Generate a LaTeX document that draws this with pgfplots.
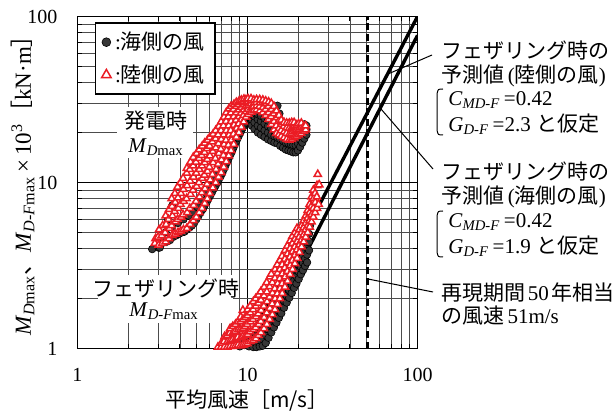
\documentclass[border=0pt]{standalone}
\usepackage{fontspec}
\setmainfont{Liberation Serif}
\newfontfamily\jp{Noto Sans CJK JP}
\usepackage{pgfplots}
\pgfplotsset{compat=1.18}
\definecolor{myred}{RGB}{235,28,36}
\definecolor{mygray}{RGB}{55,55,55}
\newcommand{\fs}{\fontsize{10.5}{12.5}\selectfont}
\begin{document}
\begin{tikzpicture}[font=\fs]
\begin{axis}[
  scale only axis, width=170pt, height=166pt,
  xmode=log, ymode=log, xmin=1, xmax=100, ymin=1, ymax=100,
  xtick={1,10,100}, xticklabels={1,10,100},
  ytick={1,10,100}, yticklabels={1,10,100},
  minor xtick={2,3,4,5,6,7,8,9,20,30,40,50,60,70,80,90},
  minor ytick={2,3,4,5,6,7,8,9,20,30,40,50,60,70,80,90},
  grid=both,
  major grid style={black, line width=0.5pt},
  minor grid style={black!70, line width=0.35pt},
  tick align=inside, major tick length=3pt, minor tick length=2.5pt,
  tick style={black, line width=0.5pt},
  axis line style={black, line width=0.9pt},
  xticklabel style={anchor=base, yshift=-16.5pt, font=\fontsize{10}{12}\selectfont},
  yticklabel style={anchor=east, xshift=-6.5pt, font=\fontsize{10}{12}\selectfont},
  legend style={at={(rel axis cs:0.0515,0.983)}, anchor=north west, draw=black, line width=0.7pt, fill=white, inner xsep=3pt, inner ysep=2.5pt, row sep=2pt, font=\fs},
  legend cell align=left,
  legend image code/.code={\draw[#1] plot coordinates {(0.12cm,0cm)};},
]
\fill[white] (rel axis cs:0.116,0.574) rectangle (rel axis cs:0.340,0.727);
\fill[white] (rel axis cs:0.060,0.077) rectangle (rel axis cs:0.457,0.221);

% sea side wind, generating
\addplot[only marks, mark=*, mark size=1.9pt, mark options={fill=mygray,draw=black,line width=0.3pt}, legend image post style={mark size=2.2pt}] coordinates {
(2.75,3.97)(3.0,4.05)(3.05,4.06)(3.2,4.35)(3.35,4.4)(3.5,4.5)(3.65,4.7)(3.8,4.8)(3.95,4.9)(4.1,5.0)(4.25,5.05)(4.4,5.2)(4.55,5.35)(4.7,5.5)(4.85,5.7)(5.0,6.0)(5.15,6.3)(5.3,6.6)(5.45,6.9)(5.6,7.3)(5.75,7.6)(5.9,8.0)(6.05,8.4)(6.2,8.8)(6.35,9.2)(6.5,9.6)(6.65,10.0)(6.8,10.5)(6.95,10.9)(7.1,11.4)(7.25,12.0)(7.4,12.6)(7.55,13.2)(7.7,13.8)(7.85,14.4)(8.0,15.0)(8.15,15.7)(8.3,16.4)(8.45,17.1)(8.6,17.8)(8.75,18.5)(8.9,19.2)(9.05,19.9)(9.2,20.6)(9.35,21.3)(9.5,22.0)(9.65,22.7)(9.8,23.4)(9.95,23.9)(10.1,24.4)(10.25,24.8)(10.4,25.2)
(3.3,5.0)(3.6,5.4)(3.9,5.7)(4.2,6.0)(4.5,6.3)(4.8,6.6)(5.1,7.1)(5.4,7.8)(5.7,8.6)(6.0,9.5)(6.3,10.4)(6.6,11.3)(6.9,12.3)(7.2,13.4)(7.5,14.6)(7.8,15.9)(8.1,17.3)(8.4,18.8)(8.7,20.3)(9.0,21.8)(9.3,23.2)(9.6,24.5)(9.9,25.6)(10.2,26.4)
(3.56,7.05)(3.62,7.3)(4.85,13.3)(3.4,6.0)
(10.6,22.0)(10.6,24.0)(10.6,25.6)(11.0,21.0)(11.0,23.0)(11.0,25.0)(11.0,26.2)
(11.5,20.0)(11.5,22.0)(11.5,24.0)(11.5,25.8)(12.0,19.4)(12.0,21.4)(12.0,23.4)(12.0,25.2)
(12.6,18.8)(12.6,20.6)(12.6,22.6)(12.6,24.4)(13.2,18.2)(13.2,20.0)(13.2,21.8)(13.2,23.6)
(13.8,17.8)(13.8,19.4)(13.8,21.2)(14.4,17.4)(14.4,19.0)(14.4,20.6)(15.0,17.2)(15.0,18.6)(15.0,20.2)
(15.6,16.6)(15.6,18.2)(15.6,19.8)(16.2,16.2)(16.2,17.8)(16.2,19.4)(16.8,15.8)(16.8,17.4)(16.8,19.0)
(17.4,15.6)(17.4,17.2)(17.4,18.8)(18.0,15.4)(18.0,17.0)(18.0,18.6)(18.6,15.2)(18.6,16.8)(18.6,18.6)
(19.2,15.2)(19.2,16.8)(19.2,18.8)(19.8,15.6)(19.8,17.2)(19.8,19.2)
(20.4,16.4)(20.4,18.0)(20.4,19.8)(20.4,21.4)(21.0,17.4)(21.0,19.0)(21.0,20.6)(21.0,22.0)
(21.6,18.4)(21.6,19.8)(21.6,21.4)(21.6,22.4)(22.2,19.4)(22.2,20.8)(22.2,22.0)
(15.0,29.0)(15.4,26.0)
};
\addlegendentry{:{\jp 海側の風}}

% sea side wind, feathering
\addplot[forget plot, only marks, mark=*, mark size=1.9pt, mark options={fill=mygray,draw=black,line width=0.3pt}] coordinates {
(9.0,1.03)(9.35,1.5)(9.6,1.05)(9.63,1.12)(10.2,1.03)(10.23,1.1)(10.17,1.2)(10.8,1.02)(10.83,1.1)(10.77,1.2)
(11.3,1.02)(11.33,1.1)(11.27,1.2)(11.3,1.3)(11.8,1.03)(11.83,1.12)(11.77,1.22)(11.8,1.34)
(12.3,1.04)(12.33,1.14)(12.27,1.26)(12.3,1.4)
(12.8,1.08)(12.8,1.2)(12.8,1.32)(12.8,1.42)(13.3,1.16)(13.3,1.3)(13.3,1.42)(13.3,1.52)
(13.8,1.25)(13.8,1.38)(13.8,1.52)(13.8,1.64)(14.3,1.34)(14.3,1.48)(14.3,1.62)(14.3,1.76)
(14.8,1.43)(14.8,1.58)(14.8,1.74)(14.8,1.88)(15.3,1.53)(15.3,1.69)(15.3,1.86)(15.3,2.0)
(15.8,1.63)(15.8,1.8)(15.8,1.98)(15.8,2.14)(16.4,1.76)(16.4,1.94)(16.4,2.14)(16.4,2.3)
(17.0,1.89)(17.0,2.08)(17.0,2.3)(17.0,2.48)(17.6,2.02)(17.6,2.24)(17.6,2.46)(17.6,2.66)
(18.2,2.16)(18.2,2.4)(18.2,2.64)(18.2,2.84)(18.8,2.32)(18.8,2.56)(18.8,2.82)(18.8,3.04)
(19.4,2.46)(19.4,2.72)(19.4,3.0)(19.4,3.24)(20.0,2.62)(20.0,2.9)(20.0,3.2)(20.0,3.46)
(20.6,2.8)(20.6,3.1)(20.6,3.4)(20.6,3.66)(21.2,2.96)(21.2,3.28)(21.2,3.6)(21.2,3.9)
(21.8,3.14)(21.8,3.48)(21.8,3.84)(21.8,4.12)(22.4,3.3)(22.4,3.68)(22.4,4.06)(22.4,4.4)
(23.0,3.9)(23.0,4.4)(23.0,4.9)(23.3,5.5)
};

% land side wind, generating
\addplot[only marks, mark=triangle*, mark size=2.1pt, mark options={fill=white,draw=myred,line width=0.75pt}, legend image post style={mark size=2.7pt}] coordinates {
(2.85,4.3)(2.88,4.6)
(3.0,4.2)(2.98,4.7)(3.02,5.2)
(3.15,4.3)(3.13,4.8)(3.17,5.5)
(3.3,4.4)(3.28,5.0)(3.32,5.6)(3.3,6.3)
(3.45,4.6)(3.47,5.3)(3.43,6.0)(3.46,6.9)
(3.6,4.8)(3.58,5.5)(3.62,6.3)(3.6,7.2)(3.58,8.0)
(3.75,4.9)(3.77,5.8)(3.73,6.7)(3.76,7.6)(3.74,8.6)
(3.9,5.0)(3.88,6.0)(3.92,7.0)(3.9,8.1)(3.88,9.4)
(4.05,5.1)(4.07,6.2)(4.03,7.4)(4.06,8.6)(4.04,10.0)
(4.2,5.2)(4.18,6.4)(4.22,7.7)(4.2,9.1)(4.18,10.6)
(4.4,5.3)(4.42,6.6)(4.38,8.0)(4.41,9.6)(4.39,11.4)(4.4,12.2)
(4.6,5.6)(4.58,7.0)(4.62,8.5)(4.6,10.2)(4.58,12.0)(4.62,13.3)
(4.8,5.9)(4.82,7.3)(4.78,9.0)(4.81,10.8)(4.79,12.6)(4.8,14.2)
(5.0,6.2)(4.98,7.7)(5.02,9.5)(5.0,11.4)(4.98,13.3)(5.02,15.0)
(5.2,6.6)(5.22,8.2)(5.18,10.0)(5.21,12.0)(5.19,14.0)(5.2,15.8)
(5.4,7.0)(5.38,8.7)(5.42,10.6)(5.4,12.6)(5.38,14.6)(5.42,16.6)
(5.6,7.5)(5.62,9.2)(5.58,11.1)(5.61,13.2)(5.59,15.2)(5.6,17.3)
(5.8,8.0)(5.78,9.8)(5.82,11.7)(5.8,13.8)(5.78,16.0)(5.82,18.0)
(6.0,8.6)(6.03,10.4)(5.97,12.4)(6.01,14.5)(5.99,16.6)(6.0,18.7)
(6.25,9.3)(6.22,11.2)(6.28,13.2)(6.25,15.4)(6.22,17.6)(6.28,19.6)
(6.5,10.0)(6.53,12.0)(6.47,14.0)(6.51,16.2)(6.49,18.4)(6.5,20.6)
(6.75,10.8)(6.72,12.9)(6.78,15.0)(6.75,17.2)(6.72,19.4)(6.78,21.8)
(7.0,11.5)(7.03,13.7)(6.97,15.9)(7.01,18.2)(6.99,20.6)(7.0,23.2)
(7.25,12.4)(7.22,14.6)(7.28,17.0)(7.25,19.4)(7.22,22.0)(7.28,24.8)
(7.5,13.4)(7.53,15.6)(7.47,18.0)(7.51,20.6)(7.49,23.4)(7.5,26.4)
(7.75,14.5)(7.72,16.8)(7.78,19.3)(7.75,22.0)(7.72,24.9)(7.78,27.8)
(8.0,15.6)(8.03,18.0)(7.97,20.6)(8.01,23.4)(7.99,26.3)(8.0,28.8)
(8.3,17.0)(8.27,19.6)(8.33,22.2)(8.3,25.0)(8.27,27.6)(8.33,29.6)
(8.6,18.8)(8.63,21.2)(8.57,23.8)(8.61,26.4)(8.59,28.8)(8.6,30.4)
(8.9,20.0)(8.87,22.6)(8.93,25.0)(8.9,27.4)(8.87,29.6)(8.93,31.0)
(9.2,21.6)(9.23,24.0)(9.17,26.2)(9.21,28.4)(9.19,30.4)(9.2,31.4)
(9.5,23.2)(9.47,25.4)(9.53,27.4)(9.5,29.4)(9.47,31.0)(9.53,31.8)
(9.8,24.8)(9.83,26.8)(9.77,28.6)(9.81,30.2)(9.79,31.6)
(10.1,25.8)(10.07,27.6)(10.13,29.2)(10.1,30.8)(10.07,32.0)
(10.5,26.6)(10.53,28.2)(10.47,29.8)(10.51,31.2)(10.49,32.0)
(10.9,27.2)(10.87,28.8)(10.93,30.2)(10.9,31.4)
(11.3,27.4)(11.33,29.0)(11.27,30.4)(11.31,31.6)
(11.8,27.0)(11.77,28.8)(11.83,30.4)(11.8,31.6)
(12.3,26.4)(12.33,28.4)(12.27,30.2)(12.31,31.4)
(12.8,25.4)(12.77,27.6)(12.83,29.8)(12.8,31.0)
(13.3,24.0)(13.33,26.4)(13.27,28.8)(13.31,30.6)
(13.8,22.4)(13.77,25.0)(13.83,27.6)(13.8,30.0)
(14.3,20.8)(14.33,23.4)(14.27,26.0)(14.31,28.8)
(14.8,19.8)(14.77,22.0)(14.83,24.6)(14.8,27.0)
(15.3,19.4)(15.33,21.2)(15.27,23.4)(15.31,25.4)
(15.8,19.0)(15.77,20.6)(15.83,22.4)(15.8,23.8)
(16.4,18.6)(16.43,20.2)(16.37,21.8)(16.41,23.0)
(17.0,18.2)(16.97,19.8)(17.03,21.4)(17.0,22.8)
(17.6,18.0)(17.63,19.6)(17.57,21.2)(17.61,22.8)
(18.2,18.2)(18.17,19.8)(18.23,21.4)(18.2,23.0)
(18.8,18.6)(18.83,20.2)(18.77,21.8)(18.81,23.0)
(19.4,19.0)(19.37,20.6)(19.43,22.2)
(20.0,19.4)(20.03,21.0)(19.97,22.6)
(20.7,19.8)(20.67,21.4)(20.73,22.8)
(21.4,20.4)(21.43,21.8)
(22.0,20.8)(21.97,22.0)
};
\addlegendentry{:{\jp 陸側の風}}

% land side wind, feathering
\addplot[forget plot, only marks, mark=triangle*, mark size=2.1pt, mark options={fill=white,draw=myred,line width=0.75pt}] coordinates {
(6.7,1.02)(7.0,1.02)(7.03,1.08)(7.3,1.02)(7.27,1.1)(7.33,1.18)(7.6,1.02)(7.63,1.1)(7.57,1.2)
(7.9,1.03)(7.93,1.12)(7.87,1.24)(7.9,1.32)(8.2,1.03)(8.17,1.13)(8.23,1.25)(8.2,1.36)
(8.5,1.04)(8.53,1.15)(8.47,1.27)(8.5,1.4)(8.8,1.05)(8.77,1.17)(8.83,1.3)(8.8,1.45)
(9.1,1.04)(9.13,1.16)(9.07,1.3)(9.1,1.46)(9.13,1.55)(9.4,1.05)(9.37,1.18)(9.43,1.33)(9.4,1.5)(9.39,1.7)
(9.7,1.06)(9.73,1.2)(9.67,1.36)(9.7,1.54)(10.0,1.07)(10.03,1.22)(9.97,1.4)(10.0,1.58)(10.03,1.72)
(10.4,1.1)(10.37,1.26)(10.43,1.45)(10.4,1.64)(10.37,1.8)(10.8,1.12)(10.83,1.3)(10.77,1.5)(10.8,1.72)(10.83,1.92)
(11.2,1.15)(11.17,1.34)(11.23,1.56)(11.2,1.8)(11.17,2.0)(11.6,1.2)(11.63,1.4)(11.57,1.62)(11.6,1.88)(11.63,2.1)
(12.0,1.25)(11.97,1.46)(12.03,1.7)(12.0,1.96)(11.97,2.2)(12.5,1.32)(12.53,1.54)(12.47,1.8)(12.5,2.08)(12.53,2.35)
(13.0,1.4)(12.97,1.64)(13.03,1.92)(13.0,2.2)(12.97,2.5)(13.5,1.5)(13.53,1.75)(13.47,2.04)(13.5,2.36)(13.53,2.7)
(14.0,1.6)(13.97,1.86)(14.03,2.16)(14.0,2.5)(13.8,2.81)(14.5,1.72)(14.53,2.0)(14.47,2.3)(14.5,2.66)(14.53,3.0)
(15.0,1.85)(14.97,2.14)(15.03,2.46)(15.0,2.84)(14.97,3.2)(15.5,2.0)(15.53,2.3)(15.47,2.64)(15.5,3.0)(15.53,3.4)
(16.0,2.15)(15.97,2.46)(16.03,2.82)(16.0,3.2)(15.97,3.6)(16.6,2.35)(16.63,2.7)(16.57,3.06)(16.6,3.46)(16.63,3.9)
(17.2,2.55)(17.17,2.92)(17.23,3.3)(17.2,3.72)(17.17,4.15)(17.8,2.8)(17.83,3.16)(17.77,3.56)(17.8,4.0)(17.83,4.45)
(18.4,3.0)(18.37,3.4)(18.43,3.84)(18.4,4.3)(18.37,4.75)(19.0,3.25)(19.03,3.66)(18.97,4.1)(19.0,4.56)(19.03,5.0)
(19.6,3.5)(19.57,3.94)(19.63,4.4)(19.6,4.86)(19.57,5.3)(20.2,3.8)(20.23,4.22)(20.17,4.7)(20.2,5.2)
(20.8,4.1)(20.77,4.5)(20.83,5.0)(20.8,5.5)(21.4,4.4)(21.43,4.85)(21.37,5.35)(21.4,5.9)
(22.0,4.7)(21.97,5.2)(22.03,5.7)(22.0,6.3)(22.6,5.0)(22.63,5.5)(22.57,6.1)(22.6,6.8)
(23.2,5.4)(23.17,5.9)(23.23,6.6)(23.2,7.4)(23.8,5.8)(23.83,6.4)(23.77,7.2)(23.8,8.2)
(24.4,6.2)(24.37,7.0)(24.43,8.0)(24.4,9.0)(25.0,6.6)(25.03,7.6)(24.97,8.6)
(25.6,7.0)(25.57,8.2)(25.63,9.6)(26.2,7.4)(26.4,9.7)(25.9,11.2)
};

% predicted lines
\addplot[forget plot, black, line width=1.7pt] coordinates {(9.6,1) (100,100)};
\addplot[forget plot, black, line width=1.7pt] coordinates {(11.4,1) (100,77)};
\addplot[forget plot, black, line width=1.5pt, dash pattern=on 3.5pt off 1.8pt] coordinates {(51,1) (51,100)};
\end{axis}

\begin{scope}[shift={(-38.75pt,174.25pt)},x=0.5pt,y=-0.5pt]
% axis labels
\node[anchor=center] at (247,400) {\jp 平均風速［m/s］};
\node[anchor=center, rotate=90, font=\fontsize{11.5}{13}\selectfont] at (23,180) {\textit{M}\textsubscript{\textit{D}max}{\jp 、}\textit{M}\textsubscript{\textit{D-F}max}\,×\,10\textsuperscript{3}{\jp ［}kN·m{\jp ］}};
% inner labels
\node[anchor=center] at (156,121) {\jp 発電時};
\node[anchor=center] at (156,147) {\textit{M}\textsubscript{\textit{D}max}};
\node[anchor=center] at (166,288) {\jp フェザリング時};
\node[anchor=center] at (164,311) {\textit{M}\textsubscript{\textit{D-F}max}};
% leaders
\draw[line width=0.5pt] (388,74) -- (432,55);
\draw[line width=0.5pt] (381,109) -- (433,169);
\draw[line width=0.5pt] (368,279) -- (433,292);
% group 1
\node[anchor=west, inner sep=0pt] at (441,51) {\jp フェザリング時の};
\node[anchor=west, inner sep=0pt] at (441,76) {{\jp 予測値}\,({\jp 陸側の風})};
\node[anchor=west, inner sep=0pt] at (448,100) {\textit{C}\textsubscript{\textit{MD-F}}\,=0.42};
\node[anchor=west, inner sep=0pt] at (448,124) {\textit{G}\textsubscript{\textit{D-F}}\,=2.3 {\jp と仮定}};
\draw[line width=0.5pt] (443,89) .. controls (438,89) .. (437,94) -- (437,130) .. controls (438,135) .. (443,135);
% group 2
\node[anchor=west, inner sep=0pt] at (441,172) {\jp フェザリング時の};
\node[anchor=west, inner sep=0pt] at (441,197) {{\jp 予測値}\,({\jp 海側の風})};
\node[anchor=west, inner sep=0pt] at (448,222) {\textit{C}\textsubscript{\textit{MD-F}}\,=0.42};
\node[anchor=west, inner sep=0pt] at (448,246) {\textit{G}\textsubscript{\textit{D-F}}\,=1.9 {\jp と仮定}};
\draw[line width=0.5pt] (443,211) .. controls (438,211) .. (437,216) -- (437,252) .. controls (438,257) .. (443,257);
% group 3
\node[anchor=west, inner sep=0pt] at (441,293) {{\jp 再現期間}\hspace{0.12em}50\hspace{0.12em}{\jp 年相当}};
\node[anchor=west, inner sep=0pt] at (441,316) {{\jp の風速}\hspace{0.15em}51m/s};
\pgfresetboundingbox
\path[use as bounding box] (0,0) rectangle (615,412);
\end{scope}
\end{tikzpicture}
\end{document}
